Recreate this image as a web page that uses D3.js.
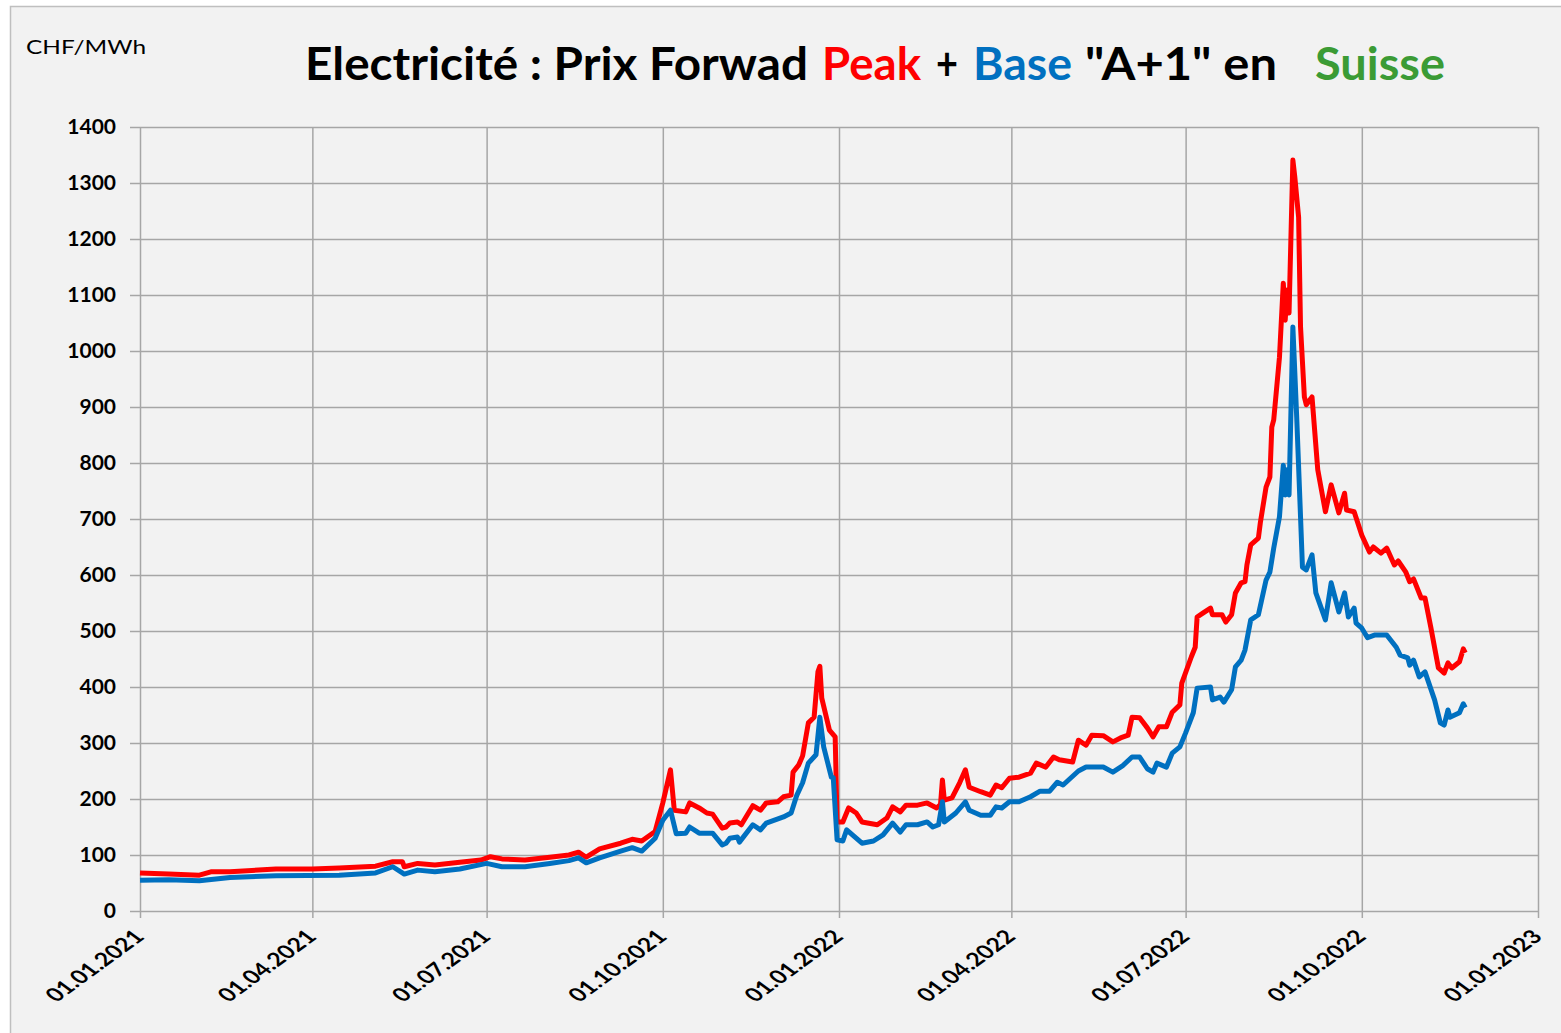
<!DOCTYPE html>
<html>
<head>
<meta charset="utf-8">
<script src="https://cdn.jsdelivr.net/npm/d3@7"></script>
<style>
body { margin: 0; background: #fff; }
text { font-family: Lato, "Open Sans", sans-serif; }
</style>
</head>
<body>
<div id="chart"></div>
<script>
// Peak "A+1" forward price, CHF/MWh
var peakData = [
    ["2021-01-01", 68], ["2021-01-16", 66], ["2021-02-01", 64], ["2021-02-07", 70], ["2021-02-17", 70],
    ["2021-03-13", 75], ["2021-04-01", 75], ["2021-04-15", 77], ["2021-05-04", 80], ["2021-05-13", 88],
    ["2021-05-18", 88], ["2021-05-19", 79], ["2021-05-26", 85], ["2021-06-04", 82], ["2021-06-17", 87],
    ["2021-06-28", 91], ["2021-07-03", 97], ["2021-07-09", 93], ["2021-07-21", 91], ["2021-08-03", 96],
    ["2021-08-13", 100], ["2021-08-18", 105], ["2021-08-22", 96], ["2021-08-29", 111], ["2021-09-09", 121],
    ["2021-09-15", 128], ["2021-09-20", 125], ["2021-09-27", 142], ["2021-10-01", 193], ["2021-10-05", 252],
    ["2021-10-07", 180], ["2021-10-13", 177], ["2021-10-15", 193], ["2021-10-20", 184], ["2021-10-24", 175],
    ["2021-10-27", 173], ["2021-11-01", 148], ["2021-11-03", 150], ["2021-11-05", 157], ["2021-11-09", 159],
    ["2021-11-11", 154], ["2021-11-17", 188], ["2021-11-21", 180], ["2021-11-24", 193], ["2021-11-30", 195],
    ["2021-12-03", 204], ["2021-12-07", 207], ["2021-12-08", 248], ["2021-12-11", 261], ["2021-12-13", 277],
    ["2021-12-16", 336], ["2021-12-19", 346], ["2021-12-21", 427], ["2021-12-22", 437], ["2021-12-23", 380],
    ["2021-12-27", 323], ["2021-12-30", 311], ["2021-12-31", 159], ["2022-01-03", 159], ["2022-01-06", 184],
    ["2022-01-10", 175], ["2022-01-13", 159], ["2022-01-21", 154], ["2022-01-26", 166], ["2022-01-29", 186],
    ["2022-02-02", 177], ["2022-02-05", 189], ["2022-02-11", 189], ["2022-02-16", 193], ["2022-02-21", 184],
    ["2022-02-23", 190], ["2022-02-24", 234], ["2022-02-25", 198], ["2022-03-01", 202], ["2022-03-05", 229],
    ["2022-03-08", 252], ["2022-03-10", 221], ["2022-03-16", 213], ["2022-03-21", 207], ["2022-03-24", 225],
    ["2022-03-27", 220], ["2022-03-31", 237], ["2022-04-05", 239], ["2022-04-11", 246], ["2022-04-14", 264],
    ["2022-04-19", 257], ["2022-04-23", 275], ["2022-04-26", 270], ["2022-05-03", 266], ["2022-05-06", 305],
    ["2022-05-10", 296], ["2022-05-13", 314], ["2022-05-19", 313], ["2022-05-24", 302], ["2022-05-28", 309],
    ["2022-06-01", 314], ["2022-06-03", 346], ["2022-06-07", 345], ["2022-06-11", 327], ["2022-06-14", 311],
    ["2022-06-17", 329], ["2022-06-21", 329], ["2022-06-24", 355], ["2022-06-28", 368], ["2022-06-29", 407],
    ["2022-07-04", 454], ["2022-07-06", 471], ["2022-07-07", 525], ["2022-07-10", 532], ["2022-07-14", 541],
    ["2022-07-15", 529], ["2022-07-20", 529], ["2022-07-22", 516], ["2022-07-25", 529], ["2022-07-27", 568],
    ["2022-07-30", 586], ["2022-08-01", 588], ["2022-08-02", 618], ["2022-08-04", 654], ["2022-08-08", 666],
    ["2022-08-09", 693], ["2022-08-12", 757], ["2022-08-14", 775], ["2022-08-15", 864], ["2022-08-16", 877],
    ["2022-08-19", 989], ["2022-08-21", 1121], ["2022-08-22", 1055], ["2022-08-23", 1109], ["2022-08-24", 1068],
    ["2022-08-26", 1341], ["2022-08-27", 1311], ["2022-08-29", 1239], ["2022-08-30", 1043], ["2022-09-01", 918],
    ["2022-09-02", 904], ["2022-09-05", 918], ["2022-09-08", 788], ["2022-09-12", 713], ["2022-09-15", 761],
    ["2022-09-19", 711], ["2022-09-22", 746], ["2022-09-23", 716], ["2022-09-27", 713], ["2022-10-01", 671],
    ["2022-10-05", 641], ["2022-10-07", 650], ["2022-10-11", 639], ["2022-10-14", 648], ["2022-10-18", 618],
    ["2022-10-20", 625], ["2022-10-24", 605], ["2022-10-26", 588], ["2022-10-28", 593], ["2022-11-01", 559],
    ["2022-11-03", 559], ["2022-11-06", 507], ["2022-11-10", 434], ["2022-11-13", 425], ["2022-11-15", 443],
    ["2022-11-17", 434], ["2022-11-21", 445], ["2022-11-23", 468], ["2022-11-24", 461]
];

// Base "A+1" forward price, CHF/MWh
var baseData = [
    ["2021-01-01", 55], ["2021-01-16", 56], ["2021-02-01", 54], ["2021-02-17", 60], ["2021-03-13", 63],
    ["2021-04-15", 64], ["2021-05-04", 68], ["2021-05-13", 79], ["2021-05-19", 66], ["2021-05-26", 73],
    ["2021-06-04", 70], ["2021-06-17", 75], ["2021-07-01", 85], ["2021-07-09", 79], ["2021-07-21", 79],
    ["2021-08-03", 85], ["2021-08-13", 90], ["2021-08-18", 95], ["2021-08-22", 86], ["2021-08-29", 95],
    ["2021-09-09", 107], ["2021-09-15", 113], ["2021-09-20", 107], ["2021-09-27", 130], ["2021-10-01", 162],
    ["2021-10-05", 180], ["2021-10-08", 138], ["2021-10-13", 139], ["2021-10-15", 150], ["2021-10-20", 139],
    ["2021-10-27", 139], ["2021-11-01", 118], ["2021-11-03", 121], ["2021-11-05", 130], ["2021-11-09", 132],
    ["2021-11-10", 123], ["2021-11-17", 154], ["2021-11-21", 145], ["2021-11-24", 157], ["2021-12-03", 168],
    ["2021-12-07", 175], ["2021-12-10", 207], ["2021-12-13", 229], ["2021-12-16", 264], ["2021-12-20", 279],
    ["2021-12-22", 346], ["2021-12-24", 293], ["2021-12-28", 239], ["2021-12-29", 238], ["2021-12-31", 127],
    ["2022-01-03", 125], ["2022-01-05", 145], ["2022-01-13", 121], ["2022-01-19", 125], ["2022-01-24", 136],
    ["2022-01-29", 157], ["2022-02-02", 141], ["2022-02-05", 154], ["2022-02-11", 154], ["2022-02-16", 159],
    ["2022-02-19", 150], ["2022-02-22", 154], ["2022-02-24", 195], ["2022-02-25", 159], ["2022-03-03", 175],
    ["2022-03-08", 195], ["2022-03-10", 180], ["2022-03-16", 171], ["2022-03-21", 171], ["2022-03-24", 186],
    ["2022-03-27", 184], ["2022-03-31", 195], ["2022-04-05", 195], ["2022-04-11", 204], ["2022-04-16", 214],
    ["2022-04-21", 214], ["2022-04-25", 230], ["2022-04-28", 225], ["2022-05-06", 250], ["2022-05-10", 257],
    ["2022-05-16", 257], ["2022-05-19", 257], ["2022-05-24", 248], ["2022-05-29", 259], ["2022-06-03", 275],
    ["2022-06-07", 275], ["2022-06-11", 254], ["2022-06-14", 248], ["2022-06-16", 264], ["2022-06-21", 257],
    ["2022-06-24", 282], ["2022-06-28", 293], ["2022-07-01", 318], ["2022-07-05", 354], ["2022-07-07", 398],
    ["2022-07-14", 400], ["2022-07-15", 377], ["2022-07-19", 382], ["2022-07-21", 373], ["2022-07-25", 395],
    ["2022-07-27", 436], ["2022-07-30", 448], ["2022-08-01", 466], ["2022-08-04", 520], ["2022-08-08", 529],
    ["2022-08-12", 591], ["2022-08-14", 605], ["2022-08-16", 648], ["2022-08-19", 704], ["2022-08-21", 796],
    ["2022-08-22", 743], ["2022-08-23", 788], ["2022-08-24", 743], ["2022-08-26", 1043], ["2022-08-28", 882],
    ["2022-08-30", 704], ["2022-08-31", 614], ["2022-09-02", 609], ["2022-09-05", 636], ["2022-09-07", 568],
    ["2022-09-12", 520], ["2022-09-15", 586], ["2022-09-19", 534], ["2022-09-22", 568], ["2022-09-24", 525],
    ["2022-09-27", 541], ["2022-09-28", 514], ["2022-10-01", 505], ["2022-10-04", 488], ["2022-10-08", 493],
    ["2022-10-14", 493], ["2022-10-19", 471], ["2022-10-21", 457], ["2022-10-25", 452], ["2022-10-26", 439],
    ["2022-10-28", 448], ["2022-10-31", 418], ["2022-11-03", 427], ["2022-11-08", 377], ["2022-11-11", 336],
    ["2022-11-13", 332], ["2022-11-15", 359], ["2022-11-16", 346], ["2022-11-21", 354], ["2022-11-23", 370],
    ["2022-11-24", 363]
];

var xTickLabels = ["01.01.2021", "01.04.2021", "01.07.2021", "01.10.2021", "01.01.2022",
    "01.04.2022", "01.07.2022", "01.10.2022", "01.01.2023"];
var yTickValues = [0, 100, 200, 300, 400, 500, 600, 700, 800, 900, 1000, 1100, 1200, 1300, 1400];

var svgWidth = 1561;
var svgHeight = 1033;
var margin = { top: 127, right: 23, bottom: 122, left: 140 };
var width = svgWidth - margin.left - margin.right;
var height = svgHeight - margin.top - margin.bottom;

var parseDay = d3.timeParse("%Y-%m-%d");
var parseTick = d3.timeParse("%d.%m.%Y");

var svg = d3.select("#chart")
    .append("svg")
    .attr("width", svgWidth)
    .attr("height", svgHeight);

// chart area background + border
svg.append("rect")
    .attr("x", 10.5)
    .attr("y", 6.5)
    .attr("width", svgWidth + 20)
    .attr("height", svgHeight + 20)
    .attr("fill", "#f2f2f2")
    .attr("stroke", "#bfbfbf")
    .attr("stroke-width", 1.5);

var chartGroup = svg.append("g")
    .attr("transform", `translate(${margin.left}, ${margin.top})`);

var xScale = d3.scaleTime()
    .domain([parseTick(xTickLabels[0]), parseTick(xTickLabels[xTickLabels.length - 1])])
    .range([0, width]);

var yScale = d3.scaleLinear()
    .domain([0, 1400])
    .range([height, 0]);

// horizontal grid + y labels (axis sits on the right edge, ticks run left past the plot)
var leftAxis = d3.axisLeft(yScale)
    .tickValues(yTickValues)
    .tickFormat(d3.format("d"))
    .tickSize(width + 10)
    .tickPadding(14);

var yAxisGroup = chartGroup.append("g")
    .attr("transform", `translate(${width}, 0)`)
    .call(leftAxis);

yAxisGroup.select(".domain").remove();
yAxisGroup.selectAll("line")
    .attr("stroke", "#a6a6a6")
    .attr("stroke-width", 1.5);
yAxisGroup.selectAll("text")
    .attr("font-family", "Lato, 'Open Sans', sans-serif")
    .attr("font-size", 21)
    .attr("font-weight", "bold")
    .attr("fill", "#000");

// vertical grid + x labels
var bottomAxis = d3.axisBottom(xScale)
    .tickValues(xTickLabels.map(parseTick))
    .tickSize(height + 7)
    .tickFormat(d3.timeFormat("%d.%m.%Y"));

var xAxisGroup = chartGroup.append("g")
    .call(bottomAxis);

xAxisGroup.select(".domain").remove();
xAxisGroup.selectAll("line")
    .attr("stroke", "#a6a6a6")
    .attr("stroke-width", 1.5);
xAxisGroup.selectAll("text")
    .attr("font-family", "Lato, 'Open Sans', sans-serif")
    .attr("font-size", 19)
    .attr("font-weight", "bold")
    .attr("fill", "#000")
    .attr("text-anchor", "end")
    .attr("dy", "0")
    .attr("y", 0)
    .attr("textLength", 92)
    .attr("lengthAdjust", "spacingAndGlyphs")
    .attr("transform", `translate(5, ${height + 27}) scale(1.37, 1) rotate(-45)`);

// lines
var line = d3.line()
    .x(d => xScale(parseDay(d[0])))
    .y(d => yScale(d[1]));

chartGroup.append("path")
    .datum(peakData)
    .attr("d", line)
    .attr("fill", "none")
    .attr("stroke", "#ff0000")
    .attr("stroke-width", 5)
    .attr("stroke-linejoin", "round");

chartGroup.append("path")
    .datum(baseData)
    .attr("d", line)
    .attr("fill", "none")
    .attr("stroke", "#0070c0")
    .attr("stroke-width", 5)
    .attr("stroke-linejoin", "round");

// unit label
svg.append("text")
    .attr("x", 26)
    .attr("y", 54)
    .attr("font-size", 19)
    .attr("textLength", 120)
    .attr("lengthAdjust", "spacingAndGlyphs")
    .attr("fill", "#000")
    .text("CHF/MWh");

// title, pieces in colour
var titleParts = [
    { text: "Electricité : Prix Forwad", x: 305, len: 503, color: "#000" },
    { text: "Peak", x: 822, len: 99, color: "#ff0000" },
    { text: "+", x: 936, len: 22, color: "#000" },
    { text: "Base", x: 973, len: 99, color: "#0070c0" },
    { text: "\"A+1\" en", x: 1085, len: 192, color: "#000" },
    { text: "Suisse", x: 1315, len: 130, color: "#3b9b35" }
];

svg.append("g")
    .selectAll("text")
    .data(titleParts)
    .enter()
    .append("text")
    .attr("x", d => d.x)
    .attr("y", 80)
    .attr("font-size", 46)
    .attr("font-weight", "bold")
    .attr("textLength", d => d.len)
    .attr("lengthAdjust", "spacingAndGlyphs")
    .attr("fill", d => d.color)
    .text(d => d.text);
</script>
</body>
</html>
